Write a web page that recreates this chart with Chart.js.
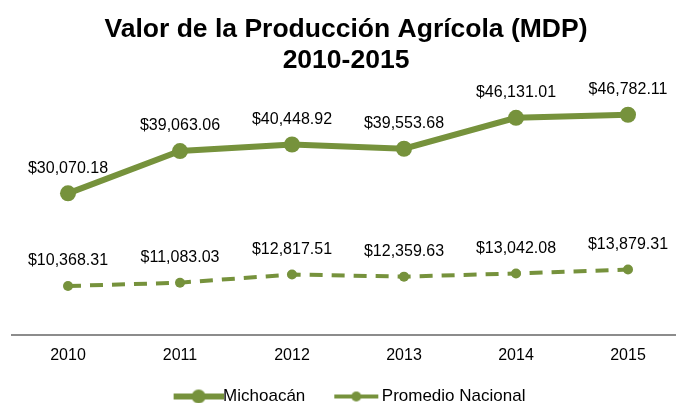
<!DOCTYPE html>
<html>
<head>
<meta charset="utf-8">
<script src="https://cdn.jsdelivr.net/npm/chart.js@4/dist/chart.umd.min.js"></script>
<style>
  html, body { margin: 0; padding: 0; background: #fff; overflow: hidden; }
  #wrap { position: relative; width: 676px; height: 403px; overflow: hidden; }
  #chart { position: absolute; left: 0; top: 0; display: block; }
</style>
</head>
<body>
<div id="wrap"><canvas id="chart" width="692" height="403"></canvas></div>
<script>
const years = ['2010', '2011', '2012', '2013', '2014', '2015']
const michoacan = [30070.18, 39063.06, 40448.92, 39553.68, 46131.01, 46782.11]
const promedioNacional = [10368.31, 11083.03, 12817.51, 12359.63, 13042.08, 13879.31]

const green = '#76923C'
const FONT = "'Liberation Sans', Arial, sans-serif"

const fmt = v => '$' + v.toLocaleString('en-US', { minimumFractionDigits: 2, maximumFractionDigits: 2 })

// legend symbol: line with a marker in the middle, drawn into a small canvas
// lead = empty space left of the line
function legendSymbol(w, lead, len, lineW, r) {
  const c = document.createElement('canvas')
  c.width = w; c.height = 18
  const g = c.getContext('2d')
  g.strokeStyle = green; g.fillStyle = green; g.lineWidth = lineW
  g.beginPath(); g.moveTo(lead, 9); g.lineTo(lead + len, 9); g.stroke()
  g.beginPath(); g.arc(lead + len / 2, 9, r, 0, Math.PI * 2); g.fill()
  return c
}

const valueLabels = {
  id: 'valueLabels',
  afterDatasetsDraw(chart) {
    const c = chart.ctx
    c.save()
    c.font = '16px ' + FONT
    c.fillStyle = '#000'
    c.textAlign = 'center'
    c.textBaseline = 'middle'
    chart.data.datasets.forEach((ds, i) => {
      chart.getDatasetMeta(i).data.forEach((pt, j) => {
        c.fillText(fmt(ds.data[j]), pt.x, pt.y - 25)
      })
    })
    c.restore()
  }
}

new Chart(document.getElementById('chart'), {
  type: 'line',
  plugins: [valueLabels],
  data: {
    labels: years,
    datasets: [
      {
        label: 'Michoacán',
        data: michoacan,
        borderColor: green,
        backgroundColor: green,
        borderWidth: 6,
        pointRadius: 8,
        pointBackgroundColor: green,
        pointBorderWidth: 0,
        tension: 0
      },
      {
        label: 'Promedio Nacional',
        data: promedioNacional,
        borderColor: green,
        backgroundColor: green,
        borderWidth: 4,
        borderDash: [13, 9],
        pointRadius: 5,
        pointBackgroundColor: green,
        pointBorderWidth: 0,
        tension: 0
      }
    ]
  },
  options: {
    responsive: false,
    animation: false,
    // canvas is wider than the page and clipped, so the plot runs past the right edge like the original
    layout: { padding: { left: 0, right: 0, top: 0, bottom: -12 } },
    plugins: {
      title: {
        display: true,
        text: ['Valor de la Producción Agrícola (MDP)', '2010-2015'],
        color: '#000',
        font: { family: FONT, size: 26.5, weight: 'bold', lineHeight: 1.17 },
        padding: { top: 14, bottom: 1 }
      },
      legend: {
        position: 'bottom',
        labels: {
          color: '#000',
          font: { family: FONT, size: 17 },
          usePointStyle: true,
          pointStyleWidth: 48,
          padding: 20,
          generateLabels: () => [
            { text: 'Michoacán', pointStyle: legendSymbol(66, 16, 50, 6, 7), fontColor: '#000', lineWidth: 0, strokeStyle: 'transparent', fillStyle: green, datasetIndex: 0 },
            { text: 'Promedio Nacional', pointStyle: legendSymbol(60, 15, 44, 4, 5), fontColor: '#000', lineWidth: 0, strokeStyle: 'transparent', fillStyle: green, datasetIndex: 1 }
          ]
        }
      },
      tooltip: { enabled: false }
    },
    scales: {
      x: {
        offset: true,
        grid: { display: false, offset: true },
        border: { display: true, color: '#8c8c8c', width: 2 },
        ticks: { color: '#000', font: { family: FONT, size: 16 }, padding: 3 }
      },
      y: {
        min: 0,
        max: 54800,
        grid: { display: false },
        border: { display: false },
        ticks: { display: false },
        afterFit(scale) { scale.width = 12 }
      }
    }
  }
})
</script>
</body>
</html>
